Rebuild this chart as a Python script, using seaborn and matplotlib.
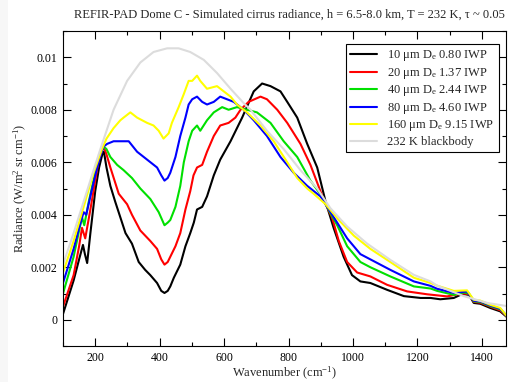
import numpy as np
import pandas as pd
import matplotlib
matplotlib.use("Agg")
import matplotlib.pyplot as plt
import seaborn as sns
from matplotlib.ticker import MultipleLocator, FuncFormatter
from matplotlib.patches import Rectangle

# ---------------- data ----------------
title = "REFIR-PAD Dome C - Simulated cirrus radiance, h = 6.5-8.0 km, T = 232 K, \u03c4 ~ 0.05"
xlabel = "Wavenumber (cm$^{-1}$)"
ylabel = "Radiance (W/m$^2$ sr cm$^{-1}$)"

labels = [
    "10 \u03bcm D$_\\mathrm{e}$ 0.80 IWP",
    "20 \u03bcm D$_\\mathrm{e}$ 1.37 IWP",
    "40 \u03bcm D$_\\mathrm{e}$ 2.44 IWP",
    "80 \u03bcm D$_\\mathrm{e}$ 4.60 IWP",
    "160 \u03bcm D$_\\mathrm{e}$ 9.15 IWP",
    "232 K blackbody",
]
colors = ["#000000", "#ff0000", "#00e000", "#0000ff", "#ffff00", "#dcdcdc"]

wn_10 = [100, 133, 150, 162, 168, 175, 185, 200, 212, 222, 227, 235, 247, 262, 278, 294, 314, 335,
         355, 371, 392, 405, 415, 425, 433, 444, 464, 480, 495, 506, 516, 532, 547, 568, 588, 620,
         656, 692, 718, 744, 775, 796, 827, 858, 889, 915, 940, 971, 997, 1023, 1054, 1106, 1158,
         1210, 1241, 1271, 1313, 1339, 1360, 1375, 1395, 1426, 1457, 1478]
rad_10 = [0.00022, 0.0015, 0.0023, 0.00285, 0.0025, 0.00216, 0.0033, 0.0049, 0.0058, 0.0063, 0.0064,
          0.0058, 0.0051, 0.0045, 0.0039, 0.0033, 0.0029, 0.0022, 0.0019, 0.0017, 0.0014, 0.0011,
          0.00102, 0.0011, 0.00127, 0.0016, 0.0021, 0.0028, 0.0033, 0.0037, 0.0042, 0.0043, 0.0047,
          0.0055, 0.0061, 0.0068, 0.0077, 0.0087, 0.0090, 0.0089, 0.0087, 0.0083, 0.0077, 0.0067,
          0.0058, 0.0045, 0.0035, 0.0024, 0.0017, 0.00146, 0.0014, 0.00114, 0.0009, 0.00083, 0.00083,
          0.00078, 0.00083, 0.00098, 0.00095, 0.00064, 0.00061, 0.00045, 0.00032, 0.0001]

wn_20 = [100, 133, 150, 159, 169, 185, 200, 211, 226, 235, 247, 273, 299, 314, 340, 371, 392, 405,
         415, 425, 433, 449, 464, 480, 495, 505, 516, 532, 547, 568, 588, 614, 635, 651, 676, 713,
         733, 765, 796, 837, 868, 899, 915, 935, 956, 982, 1013, 1054, 1106, 1168, 1230, 1292, 1339,
         1360, 1375, 1395, 1426, 1457, 1478]
rad_20 = [0.0005, 0.0017, 0.0028, 0.0035, 0.0031, 0.0042, 0.0053, 0.0061, 0.0066, 0.0063, 0.0058,
          0.0048, 0.0044, 0.0040, 0.0034, 0.0030, 0.0027, 0.0023, 0.0021, 0.0022, 0.0024, 0.0028,
          0.0033, 0.0042, 0.0049, 0.0055, 0.0058, 0.0059, 0.0064, 0.0070, 0.0074, 0.0075, 0.0077,
          0.0080, 0.0083, 0.0085, 0.0084, 0.0080, 0.0075, 0.0067, 0.0059, 0.0049, 0.0044, 0.0039,
          0.0030, 0.0022, 0.0018, 0.00165, 0.00133, 0.00108, 0.00097, 0.00089, 0.0010, 0.00098,
          0.00068, 0.00065, 0.0005, 0.00036, 0.00012]

wn_40 = [100, 133, 150, 159, 166, 180, 200, 215, 226, 235, 247, 268, 288, 314, 340, 371, 397, 415,
         425, 433, 449, 464, 475, 490, 501, 516, 526, 547, 568, 594, 614, 640, 671, 702, 744, 785,
         827, 868, 904, 915, 951, 982, 1023, 1054, 1116, 1189, 1241, 1261, 1313, 1344, 1360, 1375,
         1395, 1426, 1457, 1478]
rad_40 = [0.001, 0.0024, 0.0034, 0.0039, 0.0036, 0.0045, 0.0056, 0.0063, 0.0066, 0.0065, 0.0062,
          0.0059, 0.0057, 0.0054, 0.0050, 0.0046, 0.0041, 0.0036, 0.0037, 0.0038, 0.0043, 0.0051,
          0.0060, 0.0068, 0.0072, 0.0074, 0.0072, 0.0076, 0.0079, 0.0081, 0.0080, 0.0081, 0.0080,
          0.0079, 0.0075, 0.0068, 0.0062, 0.0053, 0.0047, 0.0044, 0.0036, 0.0028, 0.0022, 0.0020,
          0.00165, 0.00127, 0.00119, 0.0011, 0.00095, 0.00104, 0.0010, 0.0007, 0.00068, 0.00052,
          0.0004, 0.00013]

wn_80 = [100, 133, 150, 164, 172, 185, 200, 215, 226, 237, 257, 273, 288, 304, 330, 361, 392, 405,
         415, 425, 433, 449, 464, 480, 490, 501, 516, 532, 547, 568, 588, 609, 630, 661, 692, 733,
         775, 816, 858, 899, 915, 951, 982, 1023, 1054, 1116, 1189, 1241, 1261, 1313, 1354, 1375,
         1395, 1426, 1457, 1478]
rad_80 = [0.0014, 0.0027, 0.0035, 0.0041, 0.0040, 0.0047, 0.0055, 0.0062, 0.0066, 0.0067, 0.0068,
          0.0068, 0.0068, 0.0068, 0.0064, 0.0061, 0.0058, 0.0055, 0.0053, 0.0054, 0.0056, 0.0062,
          0.0070, 0.0077, 0.0082, 0.0084, 0.0085, 0.0083, 0.0082, 0.0083, 0.0085, 0.0084, 0.0083,
          0.0080, 0.0076, 0.0070, 0.0062, 0.0056, 0.0051, 0.0047, 0.0044, 0.0037, 0.0031, 0.0025,
          0.0023, 0.0019, 0.00146, 0.00129, 0.00118, 0.00102, 0.00108, 0.00072, 0.0007, 0.00054,
          0.00042, 0.00013]

wn_160 = [100, 133, 164, 195, 221, 235, 257, 278, 288, 309, 330, 361, 381, 397, 412, 428, 438, 459,
          475, 490, 501, 516, 526, 547, 578, 599, 620, 640, 671, 713, 754, 796, 827, 858, 878, 915,
          956, 1003, 1054, 1116, 1189, 1241, 1261, 1313, 1354, 1375, 1395, 1426, 1457, 1478]
rad_160 = [0.0018, 0.0030, 0.0043, 0.0056, 0.0065, 0.0069, 0.0073, 0.0076, 0.0077, 0.0079, 0.0077,
           0.0075, 0.0074, 0.0072, 0.0069, 0.0071, 0.0075, 0.0081, 0.0086, 0.0091, 0.0091, 0.0093,
           0.0091, 0.0088, 0.0089, 0.0087, 0.0085, 0.0082, 0.0079, 0.0074, 0.0068, 0.0060, 0.0054,
           0.0050, 0.0048, 0.0044, 0.0038, 0.0032, 0.0027, 0.0022, 0.0016, 0.0014, 0.0013, 0.0011,
           0.00112, 0.00076, 0.00073, 0.00057, 0.00045, 0.00013]

wn_bb = [100, 133, 164, 195, 216, 257, 299, 340, 381, 423, 459, 495, 537, 578, 620, 661, 682, 733,
         785, 837, 889, 930, 982, 1044, 1116, 1189, 1241, 1261, 1344, 1417, 1478]
rad_bb = [0.0021, 0.0033, 0.0045, 0.0057, 0.0065, 0.0080, 0.0091, 0.0098, 0.0102, 0.01034, 0.01034,
          0.0102, 0.0099, 0.0094, 0.0088, 0.00825, 0.0080, 0.0072, 0.0065, 0.0057, 0.0050, 0.00425,
          0.00355, 0.0029, 0.00228, 0.00171, 0.00146, 0.0013, 0.0009, 0.00064, 0.00052]

xs = [wn_10, wn_20, wn_40, wn_80, wn_160, wn_bb]
ys = [rad_10, rad_20, rad_40, rad_80, rad_160, rad_bb]

# ---------------- style ----------------
sns.set_theme(style="white")
plt.rcParams["font.family"] = ["Liberation Serif", "DejaVu Serif"]
plt.rcParams["mathtext.fontset"] = "custom"
plt.rcParams["mathtext.rm"] = "Liberation Serif"
plt.rcParams["mathtext.it"] = "Liberation Serif:italic"
plt.rcParams["mathtext.bf"] = "Liberation Serif:bold"

fig = plt.figure(figsize=(5.1, 3.82), dpi=100)
fig.patches.append(Rectangle((0, 0), 8 / 510, 1, transform=fig.transFigure,
                             facecolor="#f7f7f7", edgecolor="none", zorder=0))
ax = fig.add_axes([63 / 510, 1 - 346 / 382, 443 / 510, 315 / 382])

for x, y, lab, c in zip(xs, ys, labels, colors):
    df = pd.DataFrame({"wn": x, "rad": y})
    sns.lineplot(data=df, x="wn", y="rad", color=c, label=lab, linewidth=1.5,
                 ax=ax, sort=False, estimator=None)

ax.set_xlim(100, 1475)
ax.set_ylim(-0.001, 0.011)
ax.xaxis.set_major_locator(MultipleLocator(200))
ax.xaxis.set_minor_locator(MultipleLocator(100))
ax.yaxis.set_major_locator(MultipleLocator(0.002))
ax.yaxis.set_minor_locator(MultipleLocator(0.001))
ax.yaxis.set_major_formatter(FuncFormatter(lambda v, p: "%g" % round(v, 6)))
ax.xaxis.set_major_formatter(FuncFormatter(lambda v, p: "%g" % v))
ax.tick_params(which="both", direction="in", top=True, right=True, bottom=True, left=True,
               colors="black", labelsize=8.5, width=0.8)
ax.tick_params(which="major", length=6, pad=4)
ax.tick_params(which="minor", length=3)
for s in ax.spines.values():
    s.set_color("black")
    s.set_linewidth(0.8)

ax.set_xlabel(xlabel, fontsize=9, labelpad=1)
ax.set_ylabel(ylabel, fontsize=9, labelpad=1)
fig.text(289 / 510, 1 - 15 / 382, title, ha="center", va="center", fontsize=9.0)

leg = ax.legend(loc="upper right", bbox_to_anchor=((499 - 63) / 443, (346 - 44) / 315),
                fontsize=9.0, frameon=True, fancybox=False, framealpha=1, edgecolor="black",
                borderpad=0.35, handlelength=2.2, handletextpad=0.8, labelspacing=0.2,
                borderaxespad=0)
leg.get_frame().set_linewidth(0.8)

fig.savefig("out.png", dpi=100)
